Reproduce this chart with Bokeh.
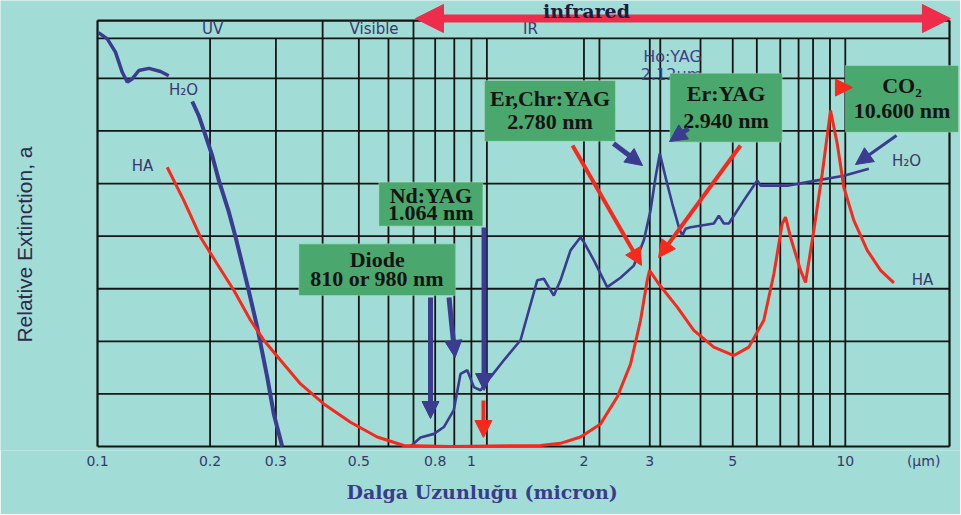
import numpy as np
from bokeh.plotting import figure
from bokeh.models import (Range1d, FixedTicker, NumeralTickFormatter, Label, Title,
                          BoxAnnotation, Arrow, NormalHead)
from bokeh.embed import file_html
from bokeh.resources import INLINE

# ---------------- data: wavelength (micron) vs relative extinction ----------------
h2o_uv_wl = [0.1006, 0.1062, 0.1117, 0.1164, 0.1201, 0.1238, 0.1290, 0.1372, 0.1474, 0.1551]
h2o_uv_ext = [7.87, 7.75, 7.50, 7.12, 6.93, 6.99, 7.15, 7.19, 7.13, 7.05]

h2o_fall_wl = [0.1792, 0.1866, 0.1945, 0.2027, 0.2111, 0.2245, 0.2339, 0.2513,
               0.2674, 0.2844, 0.2961, 0.3119]
h2o_fall_ext = [6.56, 6.29, 5.91, 5.53, 5.06, 4.46, 3.99, 3.09, 2.27, 1.32, 0.62, 0.0]

h2o_ir_wl = [0.687, 0.731, 0.794, 0.844, 0.897, 0.935, 0.975, 1.015, 1.058, 1.125,
             1.221, 1.353, 1.500, 1.562, 1.661, 1.731, 1.841, 1.958, 1.998, 2.126,
             2.308, 2.505, 2.719, 2.892, 3.014, 3.108, 3.191, 3.306, 3.445, 3.588,
             3.664, 3.739, 3.856, 4.450, 4.590, 4.733, 4.881, 5.353, 5.814, 5.933,
             6.993, 8.413, 9.910, 11.56]
h2o_ir_ext = [0.0, 0.17, 0.24, 0.37, 0.69, 1.38, 1.45, 1.13, 1.07, 1.32,
              1.64, 2.02, 3.16, 3.19, 2.87, 3.16, 3.73, 3.98, 3.89, 3.54,
              3.03, 3.21, 3.44, 3.92, 4.49, 5.12, 5.57, 5.12, 4.62, 4.17,
              4.01, 4.14, 4.17, 4.24, 4.39, 4.24, 4.24, 4.68, 5.06, 4.96,
              4.96, 5.06, 5.15, 5.28]

ha_wl = [0.1536, 0.1701, 0.1886, 0.2090, 0.2315, 0.2566, 0.2785, 0.3087, 0.3491, 0.4030,
         0.4750, 0.5600, 0.6595, 0.8794, 1.531, 1.731, 1.958, 2.215, 2.455, 2.665,
         2.834, 2.953, 2.995, 3.172, 3.553, 3.934, 4.450, 5.034, 5.521, 6.055,
         6.441, 6.782, 6.922, 7.137, 7.592, 7.828, 8.239, 8.677, 9.131, 9.515,
         9.910, 10.54, 11.45, 12.43, 13.49]
ha_ext = [5.31, 4.68, 3.98, 3.47, 2.97, 2.40, 2.02, 1.64, 1.19, 0.81,
          0.46, 0.18, 0.02, 0.0, 0.02, 0.06, 0.18, 0.43, 0.94, 1.57,
          2.40, 3.16, 3.35, 3.09, 2.65, 2.21, 1.89, 1.73, 1.89, 2.40,
          3.28, 4.24, 4.36, 3.98, 3.35, 3.12, 4.11, 5.19, 6.39, 5.76,
          4.93, 4.30, 3.73, 3.35, 3.11]

tick_values = [0.1, 0.2, 0.3, 0.5, 0.8, 1, 2, 3, 5, 10, 16.2]
tick_overrides = {16.2: "(\u00b5m)"}
grid_x = [0.2, 0.3, 0.4, 0.5, 0.6, 0.7, 0.8, 0.9, 1.0, 1.1, 2.0, 2.2, 3.0, 3.2,
          4.1, 5.0, 5.8, 6.7, 7.5, 8.2, 9.1, 10.0]
grid_y = [1, 2, 3, 4, 5, 6, 7]
band_dividers = [0.4, 0.7]
band_names = ["UV", "Visible", "IR"]
band_name_x = [0.2031, 0.5491, 1.439]

# laser label boxes: (left, right, bottom, top, line1, line2)
laser_boxes = [
    (0.3454, 0.9068, 2.871, 3.854, "Diode", "810 or 980 nm"),
    (0.5655, 1.073, 4.189, 5.026, "Nd:YAG", "1.064 nm"),
    (1.084, 2.429, 5.805, 6.960, "Er,Chr:YAG", "2.780 nm"),
    (3.394, 6.782, 5.786, 7.098, "Er:YAG", "2.940 nm"),
    (10.01, 20.09, 5.976, 7.245, "CO\u2082", "10.600 nm"),
]
# annotation arrows: (x_start, y_start, x_end, y_end)
blue_arrows = [
    (0.7774, 2.833, 0.7774, 0.532),
    (0.8711, 2.833, 0.9042, 1.692),
    (1.081, 4.164, 1.081, 1.065),
    (2.399, 5.762, 2.869, 5.343),
    (3.808, 6.047, 3.388, 5.800),
]
h2o_arrow = (13.71, 5.915, 10.65, 5.362)
red_arrows = [
    (1.077, 0.875, 1.077, 0.171),
    (1.864, 5.724, 2.851, 3.442),
    (5.245, 5.724, 3.166, 3.594),
    (9.533, 6.826, 10.45, 6.826),
]

# ---------------- styling ----------------
BG = "#a2dcd6"
NAVY = "#3b3b90"
TXT_NAVY = "#38386e"
RED = "#f52a1c"
PINK = "#ee2c4c"
GREEN = "#4aa86e"
INK = "#141414"

X_LEFT, X_RIGHT = 0.1, 19.0       # chart border
Y_BOTTOM, Y_TOP = 0.0, 8.1
HEADER_Y = 7.76

p = figure(width=960, height=514, x_axis_type="log",
           x_range=Range1d(0.05502, 20.33), y_range=Range1d(-0.0761, 8.481),
           output_backend="svg", toolbar_location=None, title=None,
           min_border_left=0, min_border_right=0, min_border_top=0,
           min_border_bottom=64)
p.background_fill_color = BG
p.border_fill_color = BG
p.outline_line_color = None
p.xgrid.visible = False
p.ygrid.visible = False
p.yaxis.visible = False

xa = p.xaxis[0]
xa.ticker = FixedTicker(ticks=tick_values)
xa.formatter = NumeralTickFormatter(format="0.[0]")
xa.major_label_overrides = tick_overrides
xa.axis_line_color = None
xa.major_tick_line_color = None
xa.minor_tick_line_color = None
xa.major_tick_out = 0
xa.major_tick_in = 0
xa.major_label_standoff = 2
xa.major_label_text_font = "DejaVu Sans"
xa.major_label_text_font_size = "14px"
xa.major_label_text_color = TXT_NAVY

p.add_layout(Title(text="Dalga Uzunlu\u011fu (micron)", align="left", offset=346,
                   standoff=15, text_font="DejaVu Serif", text_font_size="19px",
                   text_font_style="bold", text_color="#3b3b8c"), "below")

# grid and border
p.segment(x0=grid_x, y0=Y_BOTTOM, x1=grid_x, y1=HEADER_Y, line_color=INK, line_width=1.8)
p.segment(x0=band_dividers, y0=HEADER_Y, x1=band_dividers, y1=Y_TOP, line_color=INK,
          line_width=1.8)
hy = grid_y + [HEADER_Y]
p.segment(x0=X_LEFT, y0=hy, x1=X_RIGHT, y1=hy, line_color=INK, line_width=1.8)
p.segment(x0=[X_LEFT, X_RIGHT, X_LEFT, X_LEFT], y0=[Y_BOTTOM, Y_BOTTOM, Y_BOTTOM, Y_TOP],
          x1=[X_LEFT, X_RIGHT, X_RIGHT, X_RIGHT], y1=[Y_TOP, Y_TOP, Y_BOTTOM, Y_TOP],
          line_color=INK, line_width=2.2)

# curves
p.line(h2o_uv_wl, h2o_uv_ext, line_color=NAVY, line_width=3.5)
p.line(h2o_fall_wl, h2o_fall_ext, line_color=NAVY, line_width=4)
p.line(h2o_ir_wl, h2o_ir_ext, line_color=NAVY, line_width=2.6)
p.line(ha_wl, ha_ext, line_color=RED, line_width=3)


def add_text(x, y, text, size, color, font, style="normal", angle=0.0,
             align="center", baseline="middle"):
    p.add_layout(Label(x=x, y=y, text=text, text_font=font, text_font_size=size,
                       text_font_style=style, text_color=color, text_align=align,
                       text_baseline=baseline, angle=angle))


# y axis title
add_text(0.0638, 3.84, "Relative Extinction, a", "21px", "#2e2a4a", "Liberation Sans",
         angle=np.pi / 2)

for name, bx in zip(band_names, band_name_x):
    add_text(bx, 7.93, name, "15px", TXT_NAVY, "DejaVu Sans")

add_text(0.1698, 6.77, "H\u2082O", "15px", TXT_NAVY, "DejaVu Sans")
add_text(0.1319, 5.34, "HA", "15px", TXT_NAVY, "DejaVu Sans")
add_text(14.58, 5.42, "H\u2082O", "15px", TXT_NAVY, "DejaVu Sans")
add_text(16.09, 3.175, "HA", "15px", TXT_NAVY, "DejaVu Sans")
add_text(3.451, 7.41, "Ho:YAG", "16px", "#41418a", "DejaVu Sans")
add_text(3.43, 7.07, "2.12\u00b5m", "16px", "#41418a", "DejaVu Sans")

# laser boxes
for (l, r, b, t, s1, s2) in laser_boxes:
    p.add_layout(BoxAnnotation(left=l, right=r, bottom=b, top=t, fill_color=GREEN,
                               fill_alpha=1.0, line_color="#d5f3da", line_width=1.2))
    cx = 10 ** ((np.log10(l) + np.log10(r)) / 2)
    h = t - b
    add_text(cx, t - 0.30 * h, s1, "22px", INK, "Liberation Serif", "bold")
    add_text(cx, b + 0.32 * h, s2, "22px", INK, "Liberation Serif", "bold")

# arrows
for (x0, y0, x1, y1) in blue_arrows:
    p.add_layout(Arrow(x_start=x0, y_start=y0, x_end=x1, y_end=y1, line_color=NAVY,
                       line_width=5, end=NormalHead(size=17, fill_color=NAVY, line_color=NAVY)))
x0, y0, x1, y1 = h2o_arrow
p.add_layout(Arrow(x_start=x0, y_start=y0, x_end=x1, y_end=y1, line_color=NAVY,
                   line_width=3, end=NormalHead(size=17, fill_color=NAVY, line_color=NAVY)))
for (x0, y0, x1, y1) in red_arrows:
    p.add_layout(Arrow(x_start=x0, y_start=y0, x_end=x1, y_end=y1, line_color=RED,
                       line_width=4, end=NormalHead(size=17, fill_color=RED, line_color=RED)))

# infrared double arrow
p.add_layout(Arrow(x_start=0.7087, y_start=8.138, x_end=19.11, y_end=8.138,
                   line_color=PINK, line_width=8,
                   start=NormalHead(size=28, fill_color=PINK, line_color=PINK),
                   end=NormalHead(size=28, fill_color=PINK, line_color=PINK)))
add_text(2.032, 8.29, "infrared", "19px", "#1c1c40", "DejaVu Serif", "bold",
         baseline="alphabetic")

open("out.html", "w").write(file_html(p, INLINE))
